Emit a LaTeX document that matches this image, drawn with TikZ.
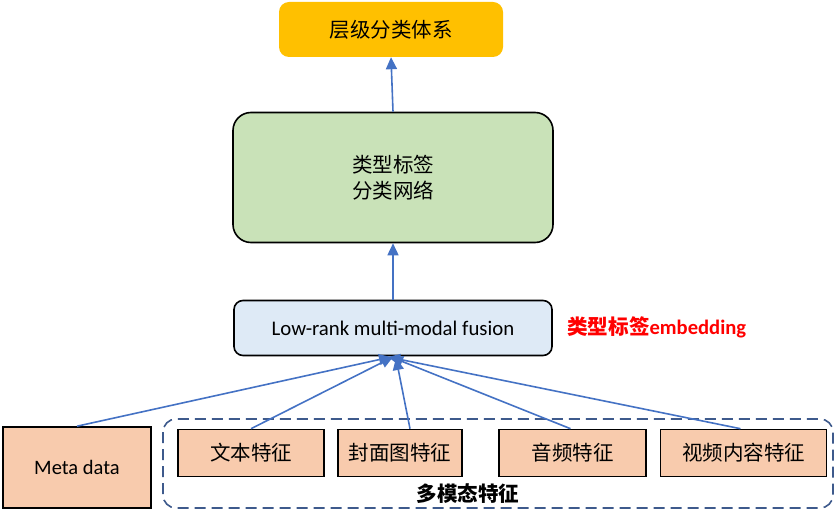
\documentclass[tikz,border=0pt]{standalone}
\usepackage{fontspec}
\setmainfont{Carlito}
\newfontfamily\cjk{Noto Sans CJK SC}
\usetikzlibrary{arrows.meta}
\definecolor{orangebox}{HTML}{FFC000}
\definecolor{greenbox}{HTML}{C9E2B8}
\definecolor{bluebox}{HTML}{DEEAF6}
\definecolor{salmon}{HTML}{F8CBAD}
\definecolor{arrowblue}{HTML}{4472C4}
\definecolor{dashblue}{HTML}{3E5A8C}
\begin{document}
\begin{tikzpicture}[x=1pt,y=-1pt,
  box/.style={draw=black,line width=1.6pt,inner sep=0pt},
  feat/.style={box,fill=salmon,font=\cjk\fontsize{20.5}{24}\selectfont,minimum height=47pt},
  arr/.style={draw=arrowblue,line width=1.6pt,-{Triangle[width=11pt,length=12pt]}}
]
\useasboundingbox (0,0) rectangle (835,518);
% top box
\node[fill=orangebox,rounded corners=10pt,minimum width=224pt,minimum height=55pt,inner sep=0pt,
  font=\cjk\fontsize{20.5}{24}\selectfont] (top) at (391,29.5) {层级分类体系};
% green box
\node[box,fill=greenbox,rounded corners=18pt,minimum width=320pt,minimum height=130pt,
  font=\cjk\fontsize{20.5}{26}\selectfont,align=center] (net) at (393,177.5) {类型标签\\分类网络};
% fusion
\node[box,fill=bluebox,rounded corners=9pt,minimum width=318pt,minimum height=55pt,
  font=\fontsize{20.8}{24}\selectfont] (fus) at (393,328) {Low-rank multi-modal fusion};
\node[anchor=west,text=red,font=\fontsize{20.6}{24}\selectfont\bfseries,inner sep=0pt] (emb) at (567,327) {{\cjk 类型标签}embedding};
% dashed group
\draw[dashblue,line width=1.6pt,dash pattern=on 11pt off 6pt,rounded corners=13pt] (163,419) rectangle (833,508);
\node[font=\cjk\fontsize{20.5}{24}\selectfont\bfseries] (mm) at (468,494) {多模态特征};
% meta
\node[box,fill=salmon,minimum width=148pt,minimum height=81pt,font=\fontsize{20.5}{24}\selectfont] (meta) at (77,467.5) {Meta data};
% features
\node[feat,minimum width=146pt] (f1) at (251,453) {文本特征};
\node[feat,minimum width=124pt] (f2) at (400,453) {封面图特征};
\node[feat,minimum width=147pt] (f3) at (572.5,453) {音频特征};
\node[feat,minimum width=166pt] (f4) at (743.5,453) {视频内容特征};
% arrows
\coordinate (c0) at (391,357);
\coordinate (c1) at (393,357);
\coordinate (c2) at (396,358);
\coordinate (c3) at (391,357);
\coordinate (c4) at (388,357);
\draw[arr] (net.north) -- (top.south);
\draw[arr] (fus.north) -- (net.south);
\draw[arr] (meta.north) -- (c0);
\draw[arr] (f1.north) -- (c1);
\draw[arr] ([xshift=10pt]f2.north) -- (c2);
\draw[arr] ([xshift=-2pt]f3.north) -- (c3);
\draw[arr] ([xshift=-3pt]f4.north) -- (c4);
\end{tikzpicture}
\end{document}
